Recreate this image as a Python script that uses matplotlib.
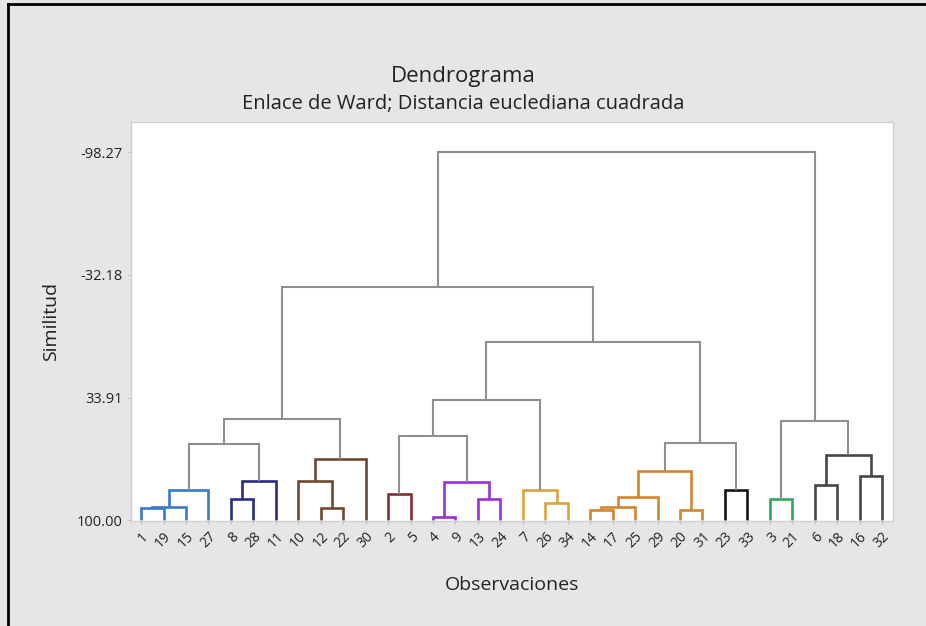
import matplotlib
matplotlib.use("Agg")
import matplotlib.pyplot as plt
from matplotlib.lines import Line2D

plt.rcParams['font.family'] = ['Open Sans', 'DejaVu Sans']

# leaf order along the x axis
leaves = [1, 19, 15, 27, 8, 28, 11, 10, 12, 22, 30, 2, 5, 4, 9, 13, 24,
          7, 26, 34, 14, 17, 25, 29, 20, 31, 23, 33, 3, 21, 6, 18, 16, 32]

# merges: node ids < 100 are leaves, 100+k is the cluster made by merge k
merge_a = [1, 100, 101, 8, 103, 102, 12, 10, 107, 105, 2, 4, 13, 111, 110, 26, 7,
           114, 14, 118, 119, 20, 120, 23, 122, 117, 109, 3, 6, 16, 128, 127, 126]
merge_b = [19, 15, 27, 28, 11, 104, 22, 106, 30, 108, 5, 9, 24, 112, 113, 34, 115,
           116, 17, 25, 29, 31, 121, 33, 123, 124, 125, 21, 18, 32, 129, 130, 131]
similarity = [93.56, 92.65, 83.54, 88.36, 78.92, 58.87, 93.19, 78.92, 66.91, 45.46,
              85.68, 98.23, 88.36, 79.46, 54.41, 90.72, 83.54, 35.27, 94.64, 92.87,
              87.50, 94.64, 73.56, 83.54, 58.54, 3.84, -25.66, 88.74, 80.85, 76.40,
              64.76, 46.74, -98.27]
groups = ["blue", "blue", "blue", "navy", "navy", "gray", "brown", "brown", "brown", "gray",
          "maroon", "purple", "purple", "purple", "gray", "gold", "gold", "gray",
          "orange", "orange", "orange", "orange", "orange", "black", "gray", "gray", "gray",
          "green", "dark", "dark", "dark", "gray", "gray"]

y_ticks = [100.00, 33.91, -32.18, -98.27]
y_ticklabels = ["100.00", "33.91", "-32.18", "-98.27"]

palette = {"blue": "#3a78c9", "navy": "#2c2c86", "brown": "#6e4a30", "maroon": "#7e3030",
           "purple": "#9a2fd6", "gold": "#dba43a", "orange": "#d4862e", "black": "#151515",
           "green": "#2ea864", "dark": "#454545", "gray": "#8f8f8f"}

fig = plt.figure(figsize=(9.26, 6.26), dpi=100, facecolor="#e6e6e6")
ax = fig.add_axes([0.1415, 0.168, 0.823, 0.637])
ax.set_facecolor("white")

pos = {lab: (i, 100.0) for i, lab in enumerate(leaves)}
for k, (a, b, s, g) in enumerate(zip(merge_a, merge_b, similarity, groups)):
    xa, ya = pos[a]
    xb, yb = pos[b]
    c = palette[g]
    lw = 1.5 if g == "gray" else 1.9
    ax.plot([xa, xa, xb, xb], [ya, s, s, yb], color=c, lw=lw,
            solid_joinstyle="miter", solid_capstyle="butt")
    pos[100 + k] = ((xa + xb) / 2, s)

ax.set_xlim(-0.45, 33.49)
ax.set_ylim(100.3, -114.5)
ax.set_yticks(y_ticks)
ax.set_yticklabels(y_ticklabels, fontsize=10.5, color="#222222")
ax.set_xticks(range(len(leaves)))
ax.set_xticklabels([str(l) for l in leaves], rotation=45, ha="right",
                   rotation_mode="anchor", fontsize=10, color="#222222")
ax.tick_params(axis="both", length=2, color="#bbbbbb", pad=4)
for sp in ax.spines.values():
    sp.set_color("#cfcfcf")
    sp.set_linewidth(1.0)

ax.set_ylabel("Similitud", fontsize=14, color="#222222", labelpad=12)
ax.set_xlabel("Observaciones", fontsize=14, color="#222222", labelpad=18)

fig.text(0.5, 0.878, "Dendrograma", ha="center", va="center", fontsize=16, color="#222222")
fig.text(0.5, 0.834, "Enlace de Ward; Distancia euclediana cuadrada", ha="center",
         va="center", fontsize=14.5, color="#222222")

# black frame at top and left edge of the screenshot
fig.add_artist(Line2D([0.009, 1.0], [0.993, 0.993], color="black", lw=2))
fig.add_artist(Line2D([0.009, 0.009], [0.0, 0.993], color="black", lw=2))

fig.savefig("out.png", dpi=100, facecolor=fig.get_facecolor())
